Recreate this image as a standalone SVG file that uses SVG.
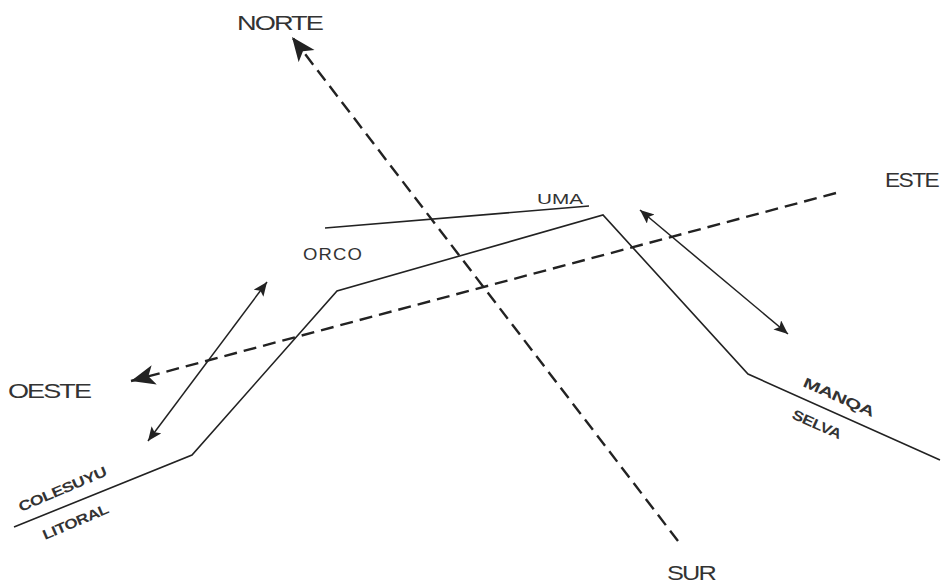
<svg xmlns="http://www.w3.org/2000/svg" width="943" height="585" viewBox="0 0 943 585">
<style>
.solid{fill:none;stroke:#222;stroke-width:1.6}
.dash{fill:none;stroke:#222;stroke-width:2.4;stroke-dasharray:13,7}
.thin{fill:none;stroke:#222;stroke-width:1.5}
.lbl{font-family:"Liberation Sans",Arial,sans-serif;fill:#333}
.big{font-size:21px;letter-spacing:-1.5px}
.sm{font-size:14px;font-weight:bold;letter-spacing:-0.5px}
</style>
<defs>
<marker id="bigArrow" markerUnits="userSpaceOnUse" markerWidth="26" markerHeight="22" refX="24" refY="10" orient="auto">
<path d="M0,0 L24,10 L0,20 L6,10 Z" fill="#222"/>
</marker>
<marker id="smArrow" markerUnits="userSpaceOnUse" markerWidth="16" markerHeight="14" refX="14" refY="6" orient="auto-start-reverse">
<path d="M0,0 L14,6 L0,12 L3,6 Z" fill="#222"/>
</marker>
</defs>
<rect width="943" height="585" fill="#fff"/>
<g id="connectors">
<polyline id="profile" class="solid" points="14,527 192,455 337,291 603,215 748,374 940,460"/>
<line id="uma-line" class="solid" x1="325" y1="228" x2="589" y2="206"/>
<line id="norte-sur" class="dash" x1="678" y1="541" x2="292" y2="37" marker-end="url(#bigArrow)"/>
<line id="este-oeste" class="dash" x1="836" y1="193" x2="131" y2="381" marker-end="url(#bigArrow)"/>
<line id="left-double" class="thin" x1="148" y1="441" x2="267" y2="282" marker-start="url(#smArrow)" marker-end="url(#smArrow)"/>
<line id="right-double" class="thin" x1="640" y1="210" x2="788" y2="334" marker-start="url(#smArrow)" marker-end="url(#smArrow)"/>
</g>
<g id="norte"><text class="lbl big" x="237" y="30" textLength="85" lengthAdjust="spacingAndGlyphs">NORTE</text></g>
<g id="sur"><text class="lbl big" x="667" y="580" textLength="48" lengthAdjust="spacingAndGlyphs">SUR</text></g>
<g id="este"><text class="lbl big" x="885" y="187" textLength="53" lengthAdjust="spacingAndGlyphs">ESTE</text></g>
<g id="oeste"><text class="lbl big" x="8" y="398" textLength="82" lengthAdjust="spacingAndGlyphs">OESTE</text></g>
<g id="uma"><text class="lbl" font-size="15" x="537" y="204" textLength="46" lengthAdjust="spacingAndGlyphs">UMA</text></g>
<g id="orco"><text class="lbl" font-size="16" x="303" y="260" letter-spacing="1" textLength="60" lengthAdjust="spacingAndGlyphs">ORCO</text></g>
<g id="colesuyu"><text class="lbl sm" transform="translate(21,512) rotate(-23)" textLength="94" lengthAdjust="spacingAndGlyphs">COLESUYU</text></g>
<g id="litoral"><text class="lbl sm" transform="translate(45,540) rotate(-23)" textLength="70" lengthAdjust="spacingAndGlyphs">LITORAL</text></g>
<g id="manqa"><text class="lbl sm" transform="translate(802,386) rotate(24)" textLength="76" lengthAdjust="spacingAndGlyphs">MANQA</text></g>
<g id="selva"><text class="lbl sm" transform="translate(791,418) rotate(24)" textLength="52" lengthAdjust="spacingAndGlyphs">SELVA</text></g>
</svg>
